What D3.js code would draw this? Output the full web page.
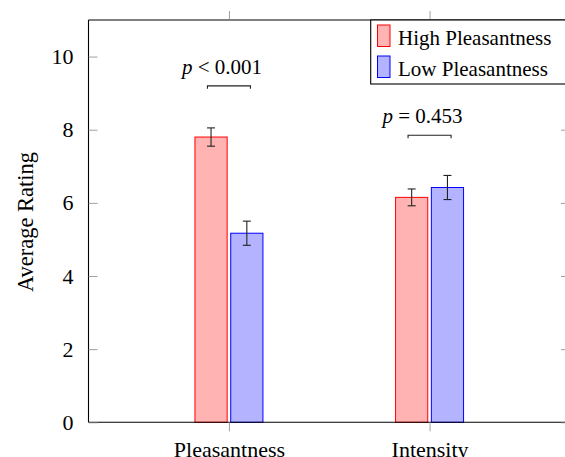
<!DOCTYPE html>
<html>
<head>
<meta charset="utf-8">
<script src="https://cdn.jsdelivr.net/npm/d3@7"></script>
<style>
  body { margin: 0; background: #fff; }
  svg { display: block; font-family: "Liberation Serif", "DejaVu Serif", serif; }
</style>
</head>
<body>
<svg id="chart" width="565" height="457"></svg>
<script>
// data
var categories = ["Pleasantness", "Intensity"];
var seriesNames = ["High Pleasantness", "Low Pleasantness"];
var highValues = [7.80, 6.15];
var highErrors = [0.25, 0.23];
var lowValues = [5.17, 6.42];
var lowErrors = [0.33, 0.33];
var yTicks = [0, 2, 4, 6, 8, 10];
var sigLabels = [["p", " < 0.001"], ["p", " = 0.453"]];
var sigLevels = [9.2, 7.85];

var fills = ["#ffb3b3", "#b3b3ff"];
var strokes = ["#ff0000", "#0000ff"];

var svg = d3.select("#chart");

// note: "top" is taken by window.top, so plot_* names here
var plot_left = 88.5, plot_right = 570, plot_top = 20, plot_bottom = 422.3;

var y = d3.scaleLinear().domain([0, 11]).range([plot_bottom, plot_top]);
var x = d3.scalePoint().domain(categories).range([plot_left, plot_right]).padding(0.7);
var xs = d3.scaleBand().domain(seriesNames).range([-34, 34]).paddingInner(0.1);

var rows = [];
for (var i = 0; i < categories.length; i++) {
  rows.push({cat: categories[i], s: seriesNames[0], k: 0, v: highValues[i], e: highErrors[i]});
  rows.push({cat: categories[i], s: seriesNames[1], k: 1, v: lowValues[i], e: lowErrors[i]});
}

// bars
svg.append("g").selectAll("rect").data(rows).enter().append("rect")
  .attr("x", function(d) { return x(d.cat) + xs(d.s); })
  .attr("y", function(d) { return y(d.v); })
  .attr("width", xs.bandwidth())
  .attr("height", function(d) { return y(0) - y(d.v); })
  .attr("fill", function(d) { return fills[d.k]; })
  .attr("stroke", function(d) { return strokes[d.k]; })
  .attr("stroke-width", 1);

// error bars
var eb = svg.append("g").attr("stroke", "#222").attr("stroke-width", 1.1);
rows.forEach(function(d) {
  var cx = x(d.cat) + xs(d.s) + xs.bandwidth() / 2;
  eb.append("line").attr("x1", cx).attr("x2", cx).attr("y1", y(d.v + d.e)).attr("y2", y(d.v - d.e));
  eb.append("line").attr("x1", cx - 4).attr("x2", cx + 4).attr("y1", y(d.v + d.e)).attr("y2", y(d.v + d.e));
  eb.append("line").attr("x1", cx - 4).attr("x2", cx + 4).attr("y1", y(d.v - d.e)).attr("y2", y(d.v - d.e));
});

// axis frame
var frame = svg.append("g").attr("stroke", "#000").attr("stroke-width", 1.1).attr("fill", "none");
frame.append("line").attr("x1", plot_left).attr("x2", plot_right).attr("y1", plot_bottom).attr("y2", plot_bottom);
frame.append("line").attr("x1", plot_left).attr("x2", plot_right).attr("y1", plot_top).attr("y2", plot_top);
frame.append("line").attr("x1", plot_left).attr("x2", plot_left).attr("y1", plot_top).attr("y2", plot_bottom);
frame.append("line").attr("x1", plot_right).attr("x2", plot_right).attr("y1", plot_top).attr("y2", plot_bottom);

// y axis: ticks inside, labels on the left
var yAxis = d3.axisLeft(y).tickValues(yTicks).tickSizeInner(-9).tickSizeOuter(0).tickPadding(15);
var gy = svg.append("g").attr("transform", "translate(" + plot_left + ",0)").call(yAxis);
gy.select(".domain").remove();
gy.selectAll(".tick line").attr("stroke", "#888").attr("stroke-width", 0.8);
gy.selectAll(".tick text").attr("font-size", 22).attr("fill", "#000")
  .attr("font-family", "Liberation Serif");

var gyr = svg.append("g").attr("transform", "translate(" + plot_right + ",0)")
  .call(d3.axisRight(y).tickValues(yTicks).tickSize(-9).tickFormat(""));
gyr.select(".domain").remove();
gyr.selectAll(".tick line").attr("stroke", "#888").attr("stroke-width", 0.8);

// x axis: ticks outside, bottom and top
var gx = svg.append("g").attr("transform", "translate(0," + plot_bottom + ")")
  .call(d3.axisBottom(x).tickSize(9).tickPadding(10));
gx.select(".domain").remove();
gx.selectAll(".tick line").attr("stroke", "#888").attr("stroke-width", 0.8);
gx.selectAll(".tick text").attr("font-size", 22).attr("fill", "#000")
  .attr("font-family", "Liberation Serif");

var gxt = svg.append("g").attr("transform", "translate(0," + plot_top + ")")
  .call(d3.axisTop(x).tickSize(9).tickFormat(""));
gxt.select(".domain").remove();
gxt.selectAll(".tick line").attr("stroke", "#888").attr("stroke-width", 0.8);

// y label
svg.append("text")
  .attr("transform", "translate(33," + 222 + ") rotate(-90)")
  .attr("text-anchor", "middle")
  .attr("font-size", 22.5)
  .text("Average Rating");

// significance brackets
var sig = svg.append("g");
categories.forEach(function(c, i) {
  var cx = x(c), by = y(sigLevels[i]);
  sig.append("path")
    .attr("d", "M" + (cx - 21.5) + "," + (by + 3) + "V" + by + "H" + (cx + 21.5) + "V" + (by + 3))
    .attr("fill", "none").attr("stroke", "#222").attr("stroke-width", 1.1);
  var t = sig.append("text")
    .attr("x", cx - 7)
    .attr("y", by - 12)
    .attr("text-anchor", "middle")
    .attr("font-size", 21);
  t.append("tspan").attr("font-style", "italic").text(sigLabels[i][0]);
  t.append("tspan").text(sigLabels[i][1]);
});

// legend
var lg = svg.append("g");
lg.append("rect").attr("x", 370.7).attr("y", plot_top).attr("width", 210).attr("height", 64)
  .attr("fill", "#fff").attr("stroke", "#000").attr("stroke-width", 1.1);
seriesNames.forEach(function(s, k) {
  var ly = plot_top + 5 + k * 31;
  lg.append("rect").attr("x", 377.5).attr("y", ly).attr("width", 12.5).attr("height", 21.5)
    .attr("fill", fills[k]).attr("stroke", strokes[k]).attr("stroke-width", 1);
  lg.append("text").attr("x", 398).attr("y", ly + 20).attr("font-size", 21).text(s);
});
</script>
</body>
</html>
